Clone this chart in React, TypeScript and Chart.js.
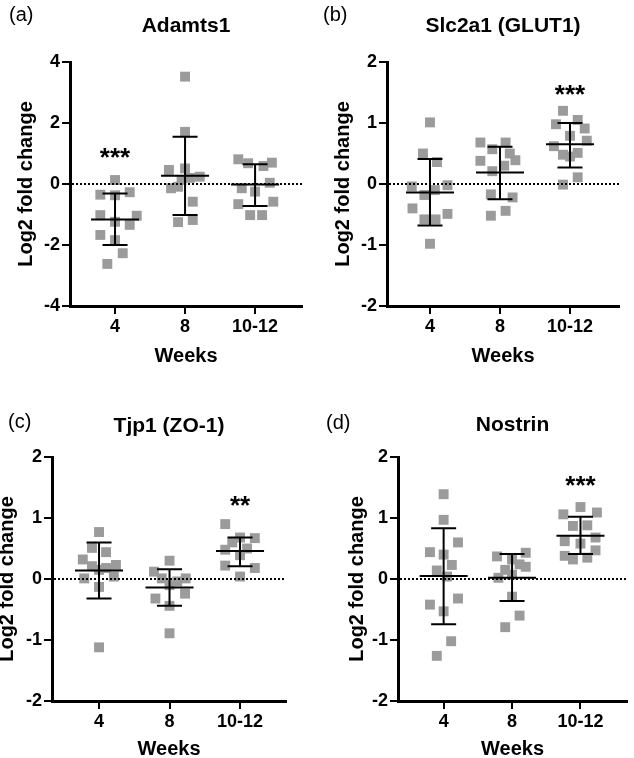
import React, { useEffect, useRef } from 'react';
import { Chart, registerables } from 'chart.js';

Chart.register(...registerables);

const FONT = "'Liberation Sans', Arial, Helvetica, sans-serif";

const weekLabels = ['4', '8', '10-12'];
const xAxisTitle = 'Weeks';
const yAxisTitle = 'Log2 fold change';

// (a) Adamts1
const adamts1Values = [
  [0.13, -0.35, -0.27, -0.37, -1.02, -1.04, -1.24, -1.34, -1.67, -1.84, -2.27, -2.62],
  [3.52, 1.71, 0.46, 0.51, 0.24, 0.2, 0.13, -0.09, -0.14, -0.58, -1.18, -1.25],
  [0.81, 0.68, 0.7, 0.59, -0.14, 0.04, -0.25, -0.66, -0.58, -1.02, -1.02],
];
const adamts1Jitter = [
  [0, -0.21, 0.21, 0, -0.21, 0.31, 0, 0.21, -0.21, 0, 0.11, -0.11],
  [0, 0, -0.23, 0, 0.21, 0.07, -0.05, -0.1, -0.2, 0.11, 0.11, -0.1],
  [-0.24, -0.1, 0.24, 0.12, -0.19, 0.21, 0, -0.24, 0.26, -0.07, 0.1],
];
const adamts1Mean = [-1.16, 0.27, -0.02];
const adamts1Upper = [-0.31, 1.55, 0.65];
const adamts1Lower = [-2.0, -1.02, -0.72];

// (b) Slc2a1 (GLUT1)
const slc2a1Values = [
  [1.01, 0.5, 0.36, -0.04, -0.02, -0.18, -0.1, -0.4, -0.49, -0.58, -0.58, -0.98],
  [0.68, 0.68, 0.57, 0.5, 0.39, 0.38, 0.3, 0.21, -0.17, -0.22, -0.44, -0.52],
  [1.2, 1.05, 0.98, 0.91, 0.79, 0.71, 0.62, 0.51, 0.48, 0.45, 0.11, -0.01],
];
const slc2a1Jitter = [
  [0, -0.1, 0.1, -0.26, 0.25, -0.08, 0.07, -0.25, 0.25, -0.08, 0.08, 0],
  [-0.28, 0.08, -0.11, 0.14, 0.22, -0.28, 0.06, -0.11, -0.13, 0.18, 0.08, -0.13],
  [-0.1, 0.11, -0.2, 0.21, 0, 0.24, -0.23, 0.11, -0.1, 0, 0.11, -0.1],
];
const slc2a1Mean = [-0.14, 0.19, 0.65];
const slc2a1Upper = [0.41, 0.61, 1.0];
const slc2a1Lower = [-0.68, -0.25, 0.27];

// (c) Tjp1 (ZO-1)
const tjp1Values = [
  [0.77, 0.51, 0.44, 0.32, 0.23, 0.21, 0.18, 0.15, 0.01, 0.04, -0.13, -1.12],
  [0.3, 0.12, 0.01, 0.01, -0.04, -0.1, -0.24, -0.32, -0.44, -0.89],
  [0.9, 0.67, 0.68, 0.6, 0.5, 0.48, 0.39, 0.22, 0.18, 0.04],
];
const tjp1Jitter = [
  [0, -0.1, 0.1, -0.23, 0.24, -0.1, 0.1, 0, -0.21, 0.21, 0, 0],
  [0, -0.22, -0.11, 0.23, 0.11, 0, 0.22, -0.2, 0, 0],
  [-0.21, 0.21, 0, -0.11, 0.1, -0.21, 0, -0.21, 0.21, 0],
];
const tjp1Mean = [0.14, -0.14, 0.46];
const tjp1Upper = [0.6, 0.16, 0.68];
const tjp1Lower = [-0.32, -0.44, 0.21];

// (d) Nostrin
const nostrinValues = [
  [1.39, 0.97, 0.6, 0.44, 0.4, 0.23, 0.14, 0.04, -0.32, -0.42, -0.53, -1.02, -1.26],
  [0.43, 0.37, 0.32, 0.24, 0.2, 0.15, 0.07, 0.02, -0.29, -0.6, -0.79],
  [1.18, 1.06, 1.09, 0.88, 0.87, 0.68, 0.62, 0.58, 0.47, 0.38, 0.35, 0.32],
];
const nostrinJitter = [
  [0, 0, 0.21, -0.2, 0, 0.12, -0.1, 0.05, 0.21, -0.2, 0, 0.11, -0.1],
  [0.2, -0.22, 0, 0.11, 0.2, -0.1, 0, -0.2, 0, 0.11, -0.1],
  [0, -0.25, 0.24, 0.1, -0.11, 0.22, -0.23, 0, 0.22, -0.23, 0.1, -0.11],
];
const nostrinMean = [0.05, 0.02, 0.71];
const nostrinUpper = [0.83, 0.41, 1.02];
const nostrinLower = [-0.74, -0.36, 0.41];

type PanelData = {
  letter: string;
  title: string;
  values: number[][];
  jitter: number[][];
  mean: number[];
  upper: number[];
  lower: number[];
  star: string;
  starGroup: number;
  starY: number;
  yMin: number;
  yMax: number;
  yStep: number;
};

const panels: PanelData[] = [
  { letter: '(a)', title: 'Adamts1', values: adamts1Values, jitter: adamts1Jitter, mean: adamts1Mean, upper: adamts1Upper, lower: adamts1Lower, star: '***', starGroup: 0, starY: 1.06, yMin: -4, yMax: 4, yStep: 2 },
  { letter: '(b)', title: 'Slc2a1 (GLUT1)', values: slc2a1Values, jitter: slc2a1Jitter, mean: slc2a1Mean, upper: slc2a1Upper, lower: slc2a1Lower, star: '***', starGroup: 2, starY: 1.56, yMin: -2, yMax: 2, yStep: 1 },
  { letter: '(c)', title: 'Tjp1 (ZO-1)', values: tjp1Values, jitter: tjp1Jitter, mean: tjp1Mean, upper: tjp1Upper, lower: tjp1Lower, star: '**', starGroup: 2, starY: 1.3, yMin: -2, yMax: 2, yStep: 1 },
  { letter: '(d)', title: 'Nostrin', values: nostrinValues, jitter: nostrinJitter, mean: nostrinMean, upper: nostrinUpper, lower: nostrinLower, star: '***', starGroup: 2, starY: 1.64, yMin: -2, yMax: 2, yStep: 1 },
];

type Layout = {
  left: number; top: number; width: number; height: number;
  xMin: number; xMax: number;
  yAxisWidth: number; xAxisHeight: number; padTop: number; padRight: number;
  yTitlePad: number; xTitlePad: number;
  titleBaseline: number; labelX: number; labelBaseline: number;
};

const layouts: Layout[] = [
  { left: 0, top: 0, width: 317, height: 379, xMin: 0.357, xMax: 3.67, yAxisWidth: 70, xAxisHeight: 73, padTop: 62, padRight: 15, yTitlePad: 16, xTitlePad: 13, titleBaseline: 32, labelX: 9, labelBaseline: 21 },
  { left: 317, top: 0, width: 317, height: 379, xMin: 0.386, xMax: 3.7, yAxisWidth: 70, xAxisHeight: 73, padTop: 62, padRight: 15, yTitlePad: 16, xTitlePad: 13, titleBaseline: 32, labelX: 6, labelBaseline: 21 },
  { left: 0, top: 379, width: 317, height: 400, xMin: 0.333, xMax: 3.652, yAxisWidth: 52, xAxisHeight: 78, padTop: 78, padRight: 31, yTitlePad: -3, xTitlePad: 20, titleBaseline: 53, labelX: 8, labelBaseline: 49 },
  { left: 317, top: 379, width: 317, height: 400, xMin: 0.333, xMax: 3.68, yAxisWidth: 81, xAxisHeight: 78, padTop: 78, padRight: 0, yTitlePad: 30, xTitlePad: 20, titleBaseline: 52, labelX: 9, labelBaseline: 50 },
];

function makeOverlay(p: PanelData, l: Layout) {
  return {
    id: 'overlay',
    afterDatasetsDraw(chart: any) {
      const { ctx, chartArea, scales } = chart;
      const x = scales.x;
      const y = scales.y;
      ctx.save();
      // dotted zero line
      const y0 = y.getPixelForValue(0);
      ctx.beginPath();
      ctx.setLineDash([2, 2]);
      ctx.lineWidth = 2;
      ctx.strokeStyle = '#000';
      ctx.moveTo(chartArea.left + 2, y0);
      ctx.lineTo(chartArea.right, y0);
      ctx.stroke();
      ctx.setLineDash([]);
      // mean +/- SD bars
      ctx.lineWidth = 2;
      p.mean.forEach((m, i) => {
        const cx = x.getPixelForValue(i + 1);
        const yu = y.getPixelForValue(p.upper[i]);
        const yl = y.getPixelForValue(p.lower[i]);
        const ym = y.getPixelForValue(m);
        ctx.beginPath();
        ctx.moveTo(cx, yu);
        ctx.lineTo(cx, yl);
        ctx.moveTo(cx - 12.5, yu);
        ctx.lineTo(cx + 12.5, yu);
        ctx.moveTo(cx - 12.5, yl);
        ctx.lineTo(cx + 12.5, yl);
        ctx.moveTo(cx - 24, ym);
        ctx.lineTo(cx + 24, ym);
        ctx.stroke();
      });
      ctx.restore();
    },
    afterDraw(chart: any) {
      const { ctx, chartArea, scales } = chart;
      const x = scales.x;
      const y = scales.y;
      ctx.save();
      ctx.fillStyle = '#000';
      ctx.textBaseline = 'alphabetic';
      // significance stars
      ctx.font = `bold 26px ${FONT}`;
      ctx.textAlign = 'center';
      const sx = x.getPixelForValue(p.starGroup + 1);
      const sy = y.getPixelForValue(p.starY);
      ctx.fillText(p.star, sx, sy + 0.56 * 26);
      // title
      ctx.font = `bold 21px ${FONT}`;
      ctx.fillText(p.title, (chartArea.left + chartArea.right) / 2, l.titleBaseline);
      // panel letter
      ctx.font = `normal 20px ${FONT}`;
      ctx.textAlign = 'left';
      ctx.fillText(p.letter, l.labelX, l.labelBaseline);
      ctx.restore();
    },
  };
}

function buildConfig(p: PanelData, l: Layout): any {
  const points: { x: number; y: number }[] = [];
  p.values.forEach((grp, gi) => {
    grp.forEach((v, i) => {
      points.push({ x: gi + 1 + p.jitter[gi][i], y: v });
    });
  });
  const tickFont = { family: FONT, size: 18, weight: 'bold' as const, lineHeight: 1 };
  const titleFont = { family: FONT, size: 20, weight: 'bold' as const, lineHeight: 1 };
  return {
    type: 'scatter',
    data: {
      datasets: [
        {
          data: points,
          pointStyle: 'rect',
          pointRadius: 7,
          pointHoverRadius: 7,
          backgroundColor: '#9b9b9b',
          pointBackgroundColor: '#9b9b9b',
          pointBorderWidth: 0,
          borderWidth: 0,
        },
      ],
    },
    options: {
      animation: false,
      responsive: false,
      events: [],
      layout: { padding: { top: l.padTop, right: l.padRight, left: 0, bottom: 0 } },
      plugins: {
        legend: { display: false },
        tooltip: { enabled: false },
        title: { display: false },
      },
      scales: {
        x: {
          type: 'linear',
          min: l.xMin,
          max: l.xMax,
          afterBuildTicks: (axis: any) => {
            axis.ticks = weekLabels.map((_, i) => ({ value: i + 1 }));
          },
          afterFit: (axis: any) => {
            axis.height = l.xAxisHeight;
          },
          ticks: {
            font: tickFont,
            color: '#000',
            padding: 4,
            maxRotation: 0,
            autoSkip: false,
            callback: (v: number) => weekLabels[Math.round(v) - 1],
          },
          grid: { drawOnChartArea: false, drawTicks: true, tickLength: 8, lineWidth: 2, color: '#000' },
          border: { display: true, width: 3, color: '#000' },
          title: { display: true, text: xAxisTitle, font: titleFont, color: '#000', padding: { top: 0, bottom: l.xTitlePad } },
        },
        y: {
          type: 'linear',
          min: p.yMin,
          max: p.yMax,
          afterFit: (axis: any) => {
            axis.width = l.yAxisWidth;
          },
          ticks: {
            stepSize: p.yStep,
            font: tickFont,
            color: '#000',
            padding: 2,
          },
          grid: { drawOnChartArea: false, drawTicks: true, tickLength: 8, lineWidth: 2, color: '#000' },
          border: { display: true, width: 3, color: '#000' },
          title: { display: true, text: yAxisTitle, font: titleFont, color: '#000', padding: { top: l.yTitlePad, bottom: 0 } },
        },
      },
    },
    plugins: [makeOverlay(p, l)],
  };
}

function PanelChart({ p, l }: { p: PanelData; l: Layout }) {
  const ref = useRef<HTMLCanvasElement>(null);
  useEffect(() => {
    const chart = new Chart(ref.current as HTMLCanvasElement, buildConfig(p, l));
    return () => chart.destroy();
  }, [p, l]);
  return (
    <canvas
      ref={ref}
      width={l.width}
      height={l.height}
      style={{ position: 'absolute', left: l.left, top: l.top, width: l.width, height: l.height }}
    />
  );
}

export default function App() {
  return (
    <div style={{ position: 'fixed', left: 0, top: 0, width: 634, height: 758, overflow: 'hidden', background: '#fff' }}>
      {panels.map((p, i) => (
        <PanelChart key={p.letter} p={p} l={layouts[i]} />
      ))}
    </div>
  );
}
